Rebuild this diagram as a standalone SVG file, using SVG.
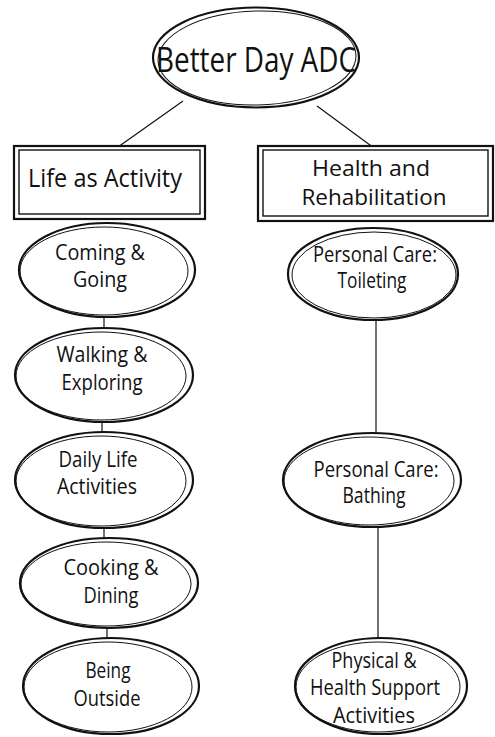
<svg xmlns="http://www.w3.org/2000/svg" width="495" height="737" viewBox="0 0 495 737">
<style>
.bg{fill:#fff}
.e1{fill:#fff;stroke:#111;stroke-width:2.2}
.e2{fill:none;stroke:#111;stroke-width:1}
.r1{fill:#fff;stroke:#111;stroke-width:2.2}
.r2{fill:none;stroke:#111;stroke-width:1.4}
.c{stroke:#111;stroke-width:1.2;fill:none}
text{font-family:"Open Sans","Liberation Sans",sans-serif;fill:#111;text-anchor:middle}
.t{font-size:34px}
.h{font-size:25px}
.h2{font-size:22px}
.l{font-size:21px}
</style>
<rect class="bg" width="495" height="737"/>
<g id="connectors">
<line class="c" x1="183" y1="101" x2="118" y2="147"/>
<line class="c" x1="317" y1="106" x2="374" y2="148"/>
<line class="c" x1="104" y1="317" x2="104" y2="329"/>
<line class="c" x1="102" y1="421" x2="102" y2="433"/>
<line class="c" x1="104" y1="527" x2="104" y2="538"/>
<line class="c" x1="107" y1="627" x2="107" y2="639"/>
<line class="c" x1="376" y1="320" x2="376" y2="434"/>
<line class="c" x1="378" y1="527" x2="378" y2="639"/>
</g>
<g id="n-root">
<ellipse class="e1" cx="256" cy="57.5" rx="103" ry="50"/>
<ellipse class="e2" cx="257" cy="58" rx="99" ry="47" transform="rotate(-1.5 256 58)"/>
<text class="t" x="256" y="72" textLength="200" lengthAdjust="spacingAndGlyphs">Better Day ADC</text>
</g>
<g id="n-life">
<rect class="r1" x="14" y="146" width="191" height="73"/>
<rect class="r2" x="19" y="150" width="181" height="64"/>
<text class="h" x="105" y="187" textLength="154" lengthAdjust="spacingAndGlyphs">Life as Activity</text>
</g>
<g id="n-health">
<rect class="r1" x="258" y="146" width="235" height="75"/>
<rect class="r2" x="263" y="150" width="225" height="66"/>
<text class="h2" x="371" y="176" textLength="118" lengthAdjust="spacingAndGlyphs">Health and</text>
<text class="h2" x="374" y="205" textLength="145" lengthAdjust="spacingAndGlyphs">Rehabilitation</text>
</g>
<g id="n-coming">
<ellipse class="e1" cx="107" cy="270" rx="88" ry="47"/>
<ellipse class="e2" cx="104" cy="271" rx="84" ry="44"/>
<text class="l" x="100" y="260" textLength="90" lengthAdjust="spacingAndGlyphs">Coming &amp;</text>
<text class="l" x="100" y="287" textLength="54" lengthAdjust="spacingAndGlyphs">Going</text>
</g>
<g id="n-walking">
<ellipse class="e1" cx="104" cy="375" rx="89" ry="47"/>
<ellipse class="e2" cx="101" cy="376" rx="85" ry="44"/>
<text class="l" x="102" y="362" textLength="91" lengthAdjust="spacingAndGlyphs">Walking &amp;</text>
<text class="l" x="102" y="390" textLength="81" lengthAdjust="spacingAndGlyphs">Exploring</text>
</g>
<g id="n-daily">
<ellipse class="e1" cx="104" cy="480" rx="89" ry="48"/>
<ellipse class="e2" cx="101" cy="481" rx="85" ry="45"/>
<text class="l" x="98" y="467" textLength="79" lengthAdjust="spacingAndGlyphs">Daily Life</text>
<text class="l" x="97" y="494" textLength="80" lengthAdjust="spacingAndGlyphs">Activities</text>
</g>
<g id="n-cooking">
<ellipse class="e1" cx="109" cy="583" rx="89" ry="45"/>
<ellipse class="e2" cx="106" cy="584" rx="85" ry="42"/>
<text class="l" x="111" y="575" textLength="95" lengthAdjust="spacingAndGlyphs">Cooking &amp;</text>
<text class="l" x="111" y="603" textLength="55" lengthAdjust="spacingAndGlyphs">Dining</text>
</g>
<g id="n-outside">
<ellipse class="e1" cx="111" cy="686" rx="88" ry="48"/>
<ellipse class="e2" cx="108" cy="687" rx="84" ry="45"/>
<text class="l" x="108" y="678" textLength="45" lengthAdjust="spacingAndGlyphs">Being</text>
<text class="l" x="107" y="706" textLength="67" lengthAdjust="spacingAndGlyphs">Outside</text>
</g>
<g id="n-toileting">
<ellipse class="e1" cx="373" cy="274" rx="85" ry="46"/>
<ellipse class="e2" cx="374" cy="275" rx="82" ry="43"/>
<text class="l" x="375" y="262" textLength="124" lengthAdjust="spacingAndGlyphs">Personal Care:</text>
<text class="l" x="372" y="288" textLength="69" lengthAdjust="spacingAndGlyphs">Toileting</text>
</g>
<g id="n-bathing">
<ellipse class="e1" cx="372" cy="480" rx="89" ry="47"/>
<ellipse class="e2" cx="369" cy="481" rx="85" ry="44"/>
<text class="l" x="376" y="477" textLength="125" lengthAdjust="spacingAndGlyphs">Personal Care:</text>
<text class="l" x="374" y="503" textLength="63" lengthAdjust="spacingAndGlyphs">Bathing</text>
</g>
<g id="n-physical">
<ellipse class="e1" cx="381" cy="686" rx="86" ry="48"/>
<ellipse class="e2" cx="378" cy="687" rx="82" ry="45"/>
<text class="l" x="374" y="668" textLength="85" lengthAdjust="spacingAndGlyphs">Physical &amp;</text>
<text class="l" x="375" y="695" textLength="130" lengthAdjust="spacingAndGlyphs">Health Support</text>
<text class="l" x="374" y="723" textLength="82" lengthAdjust="spacingAndGlyphs">Activities</text>
</g>
</svg>
